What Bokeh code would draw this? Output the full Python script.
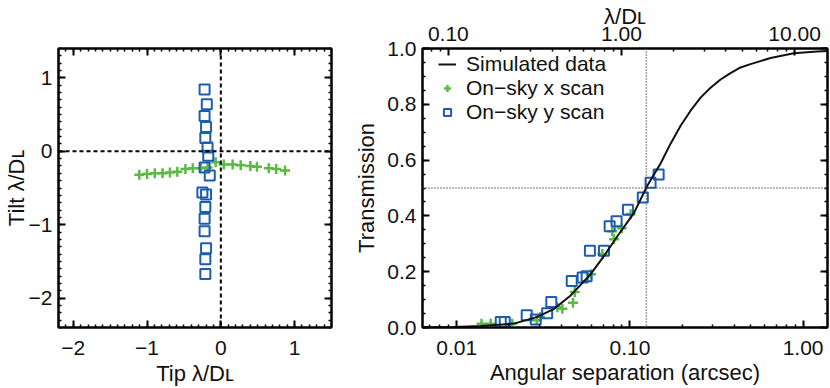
from bokeh.plotting import figure
from bokeh.layouts import row
from bokeh.models import (Range1d, LogAxis, LinearAxis, FixedTicker, SingleIntervalTicker,
                          Span, Legend, LegendItem, LogScale, PrintfTickFormatter,
                          CustomJSTickFormatter)
from bokeh.embed import file_html
from bokeh.resources import INLINE

FONT = "Liberation Sans"

# ---------------- left panel data (tip / tilt in lambda/D_L) ----------------
xscan_tip = [-1.105, -1.0, -0.895, -0.79, -0.69, -0.59, -0.48, -0.38, -0.27, -0.18,
             -0.07, 0.04, 0.16, 0.27, 0.40, 0.49, 0.65, 0.75, 0.87]
xscan_tilt = [-0.32, -0.31, -0.30, -0.30, -0.29, -0.28, -0.24, -0.23, -0.23, -0.22,
              -0.15, -0.18, -0.18, -0.19, -0.20, -0.21, -0.23, -0.24, -0.26]
yscan_tip = [-0.22, -0.19, -0.22, -0.20, -0.21, -0.18, -0.17, -0.22, -0.15, -0.25,
             -0.20, -0.21, -0.22, -0.22, -0.20, -0.21, -0.21]
yscan_tilt = [0.84, 0.64, 0.48, 0.33, 0.18, 0.05, -0.06, -0.22, -0.33, -0.56,
              -0.59, -0.76, -0.92, -1.09, -1.32, -1.47, -1.67]

# ---------------- right panel data ----------------
sim_sep = [0.00634, 0.0096, 0.0138, 0.0214, 0.0292, 0.0365, 0.0455, 0.0593, 0.0708,
           0.0846, 0.1054, 0.1260, 0.1503, 0.1717, 0.1962, 0.2240, 0.2559, 0.2922,
           0.3338, 0.3812, 0.4353, 0.497, 0.649, 0.884, 1.205, 1.384]
sim_trans = [0.0, 0.002, 0.005, 0.014, 0.038, 0.067, 0.115, 0.191, 0.256,
             0.327, 0.410, 0.508, 0.588, 0.659, 0.723, 0.777, 0.824, 0.859,
             0.889, 0.912, 0.932, 0.944, 0.966, 0.983, 0.989, 0.991]
xscan_sep = [0.0139, 0.0157, 0.0209, 0.0290, 0.0303, 0.0381, 0.0407, 0.0469, 0.0480,
             0.0596, 0.0693, 0.0809, 0.0791, 0.0896, 0.1009]
xscan_trans = [0.013, 0.013, 0.013, 0.026, 0.038, 0.073, 0.067, 0.089, 0.127,
               0.191, 0.263, 0.316, 0.345, 0.356, 0.406]
yscan_sep = [0.01795, 0.01892, 0.02535, 0.02858, 0.03327, 0.03516, 0.04613, 0.05333,
             0.05623, 0.05875, 0.07079, 0.07638, 0.08375, 0.0974, 0.1187, 0.1316, 0.1465]
yscan_trans = [0.020, 0.020, 0.044, 0.029, 0.051, 0.091, 0.167, 0.179,
               0.184, 0.275, 0.275, 0.363, 0.381, 0.422, 0.466, 0.519, 0.548]

ARCSEC_PER_LD = 0.0894      # 1 lambda/D_L in arcsec
half_sep = 0.1245           # separation at 50% transmission (arcsec)
half_trans = 0.5
sep_range = (0.00634, 1.384)

trans_ticks = [0.0, 0.2, 0.4, 0.6, 0.8, 1.0]
trans_minor = [0.05 * i for i in range(21)]
sep_ticks = [0.01, 0.1, 1.0]
ld_ticks = [0.1, 1.0, 10.0]
log_minor = [k * 10.0 ** e for e in range(-3, 2) for k in range(2, 10)]

GREEN = "#5cb947"
BLUE = "#1c5db0"


def style_axis(ax, show_labels=True):
    ax.axis_line_color = "black"
    ax.axis_line_width = 2
    ax.major_tick_in = 7
    ax.major_tick_out = 0
    ax.minor_tick_in = 3
    ax.minor_tick_out = 0
    ax.major_tick_line_width = 2
    ax.minor_tick_line_width = 1.5
    ax.major_tick_line_color = "black"
    ax.minor_tick_line_color = "black"
    ax.major_label_text_font = FONT
    ax.major_label_text_color = "#111111"
    ax.axis_label_text_font = FONT
    ax.axis_label_text_font_style = "normal"
    ax.axis_label_text_font_size = "22px"
    ax.axis_label_text_color = "#111111"
    if show_labels:
        ax.major_label_text_font_size = "21px"
    else:
        ax.formatter = CustomJSTickFormatter(code="return ''")
        ax.major_label_text_font_size = "0px"
        ax.major_label_standoff = 0


minus = {-2: "\u22122", -1: "\u22121", 0: "0", 1: "1"}

# ---------------- left figure ----------------
p1 = figure(width=350, height=388, x_range=Range1d(-2.2, 1.5), y_range=Range1d(-2.4, 1.4),
            output_backend="svg", toolbar_location=None,
            min_border_left=56, min_border_right=19, min_border_top=46, min_border_bottom=60)
p1.grid.visible = False
p1.outline_line_color = "black"
p1.outline_line_width = 2
for ax in (p1.xaxis[0], p1.yaxis[0]):
    ax.ticker = SingleIntervalTicker(interval=1, num_minor_ticks=10)
    ax.major_label_overrides = minus
    style_axis(ax)
p1.xaxis[0].major_label_standoff = 13
p1.xaxis[0].axis_label_standoff = 3
p1.yaxis[0].major_label_standoff = 6
p1.yaxis[0].axis_label_standoff = -3
p1.xaxis[0].axis_label = "Tip \u03bb/D\u029f"
p1.yaxis[0].axis_label = "Tilt \u03bb/D\u029f"
for loc in ("right", "above"):
    ax = LinearAxis(ticker=SingleIntervalTicker(interval=1, num_minor_ticks=10))
    style_axis(ax, show_labels=False)
    p1.add_layout(ax, loc)

p1.add_layout(Span(location=0, dimension="width", line_color="black", line_width=2, line_dash="4 3"))
p1.add_layout(Span(location=0, dimension="height", line_color="black", line_width=2, line_dash="4 3"))
p1.scatter(xscan_tip, xscan_tilt, marker="cross", size=10, line_width=2.5, color=GREEN)
p1.scatter(yscan_tip, yscan_tilt, marker="square", size=10, line_width=2,
           line_color=BLUE, fill_color=None)

# ---------------- right figure ----------------
p2 = figure(width=480, height=388, x_axis_type="log",
            x_range=Range1d(*sep_range), y_range=Range1d(0, 1),
            output_backend="svg", toolbar_location=None,
            min_border_left=72, min_border_right=3, min_border_top=47, min_border_bottom=59)
p2.grid.visible = False
p2.outline_line_color = "black"
p2.outline_line_width = 2
p2.extra_x_ranges = {"ld": Range1d(sep_range[0] / ARCSEC_PER_LD, sep_range[1] / ARCSEC_PER_LD)}
p2.extra_x_scales = {"ld": LogScale()}

xa = p2.xaxis[0]
xa.ticker = FixedTicker(ticks=sep_ticks, minor_ticks=log_minor)
xa.formatter = PrintfTickFormatter(format="%.2f")
style_axis(xa)
xa.major_label_standoff = 13
xa.axis_label_standoff = 2
xa.axis_label = "Angular separation (arcsec)"

ya = p2.yaxis[0]
ya.ticker = FixedTicker(ticks=trans_ticks, minor_ticks=trans_minor)
ya.formatter = PrintfTickFormatter(format="%.1f")
style_axis(ya)
ya.major_label_standoff = 6
ya.axis_label_standoff = 5
ya.axis_label = "Transmission"

ra = LinearAxis(ticker=FixedTicker(ticks=trans_ticks, minor_ticks=trans_minor))
style_axis(ra, show_labels=False)
p2.add_layout(ra, "right")

ta = LogAxis(x_range_name="ld", ticker=FixedTicker(ticks=ld_ticks, minor_ticks=log_minor),
             formatter=PrintfTickFormatter(format="%.2f"))
style_axis(ta)
ta.major_label_standoff = 8
ta.axis_label = "\u03bb/D\u029f"
ta.axis_label_standoff = -5
p2.add_layout(ta, "above")

p2.add_layout(Span(location=half_trans, dimension="width", line_color="#444444",
                   line_width=1.5, line_dash="1 2"))
p2.add_layout(Span(location=half_sep, dimension="height", line_color="#444444",
                   line_width=1.5, line_dash="1 2"))

r_g = p2.scatter(xscan_sep, xscan_trans, marker="cross", size=10, line_width=2.5, color=GREEN)
r_b = p2.scatter(yscan_sep, yscan_trans, marker="square", size=10, line_width=2,
                 line_color=BLUE, fill_color=None)
r_l = p2.line(sim_sep, sim_trans, line_color="#111111", line_width=2)

legend = Legend(items=[LegendItem(label="Simulated data", renderers=[r_l]),
                       LegendItem(label="On\u2212sky x scan", renderers=[r_g]),
                       LegendItem(label="On\u2212sky y scan", renderers=[r_b])],
                location=(16, 203))
legend.border_line_color = None
legend.background_fill_alpha = 0
legend.label_text_font = FONT
legend.label_text_font_size = "21px"
legend.label_text_color = "#111111"
legend.glyph_width = 18
legend.glyph_height = 22
legend.label_height = 22
legend.label_standoff = 10
legend.spacing = -3
legend.padding = 0
legend.margin = 0
p2.add_layout(legend)

layout = row(p1, p2)
open("out.html", "w").write(file_html(layout, INLINE))
